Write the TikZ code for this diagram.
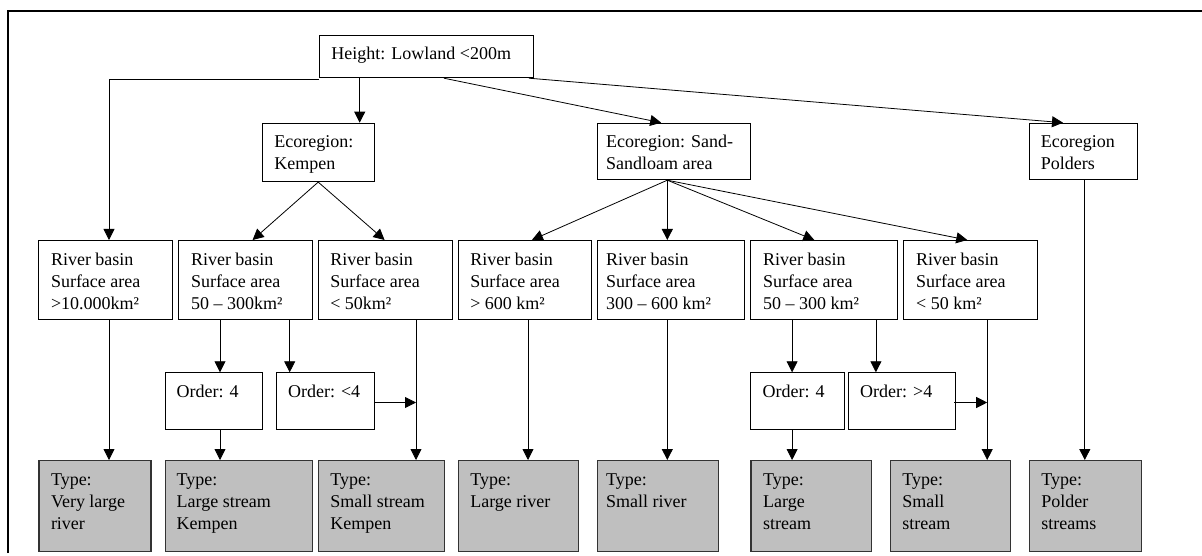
\documentclass[tikz,border=0pt]{standalone}
\usepackage{fontspec}
\setmainfont{Liberation Serif}
\usetikzlibrary{calc,arrows.meta}
\newcommand{\fs}{\rule{0pt}{14pt}}
\begin{document}
\begin{tikzpicture}[x=1pt,y=-1pt,
  box/.style={draw=black, line width=0.9pt, inner sep=0pt, anchor=north west, fill=white},
  typebox/.style={box, fill=black!25, draw=black!80, line width=1.2pt},
  txt/.style={anchor=north west, align=left, inner sep=0pt, font=\fontsize{18}{22}\selectfont},
  arr/.style={line width=0.8pt, -{Triangle[length=11pt,width=11pt]}},
  ln/.style={line width=0.8pt}]
\useasboundingbox (0,0) rectangle (1202,556);
% frame
\draw[line width=2pt] (7.5,553) -- (7.5,10.7) -- (1202,10.7);
% level 0
\node[box, minimum width=214pt, minimum height=42.3pt] (top) at (318.7,35) {};
% level 1
\node[box, minimum width=112.1pt, minimum height=58.5pt] (kem) at (261.7,122.7) {};
\node[box, minimum width=153.4pt, minimum height=56.6pt] (sand) at (597,122.7) {};
\node[box, minimum width=107.9pt, minimum height=56.6pt] (pol) at (1028.6,122.7) {};
% level 2
\node[box, minimum width=133.9pt, minimum height=79.3pt] (b1) at (38.3,240) {};
\node[box, minimum width=133.9pt, minimum height=79.3pt] (b2) at (178.3,240) {};
\node[box, minimum width=133.9pt, minimum height=79.3pt] (b3) at (317.6,240) {};
\node[box, minimum width=133.6pt, minimum height=79.3pt] (b4) at (457.6,240) {};
\node[box, minimum width=146.5pt, minimum height=79.3pt] (b5) at (597,240) {};
\node[box, minimum width=146.5pt, minimum height=79.3pt] (b6) at (750.4,240) {};
\node[box, minimum width=133.2pt, minimum height=79.3pt] (b7) at (903.4,240) {};
% order boxes
\node[box, minimum width=97.6pt, minimum height=56.7pt] (o1) at (164.5,372.3) {};
\node[box, minimum width=97.9pt, minimum height=56.7pt] (o2) at (275.9,372.3) {};
\node[box, minimum width=93.7pt, minimum height=56.7pt] (o3) at (750.4,372.3) {};
\node[box, minimum width=107.1pt, minimum height=56.7pt] (o4) at (848,372.3) {};
% type boxes
\node[typebox, minimum width=112.1pt, minimum height=90.7pt] (t1) at (38.3,460) {};
\node[typebox, minimum width=147.7pt, minimum height=90.7pt] (t2) at (164.5,460) {};
\node[typebox, minimum width=126.3pt, minimum height=90.7pt] (t3) at (317.6,460) {};
\node[typebox, minimum width=120.2pt, minimum height=90.7pt] (t4) at (457.6,460) {};
\node[typebox, minimum width=120.5pt, minimum height=90.7pt] (t5) at (597,460) {};
\node[typebox, minimum width=120.1pt, minimum height=90.7pt] (t6) at (750.4,460) {};
\node[typebox, minimum width=120.1pt, minimum height=90.7pt] (t7) at (889.7,460) {};
\node[typebox, minimum width=112.4pt, minimum height=90.7pt] (t8) at (1028.6,460) {};
% texts
\node[txt] (topt) at ($(top.north west)+(12.5,10)$) {\fs Height: Lowland <200m};
\node[txt] (kemt) at ($(kem.north west)+(12.5,11)$) {\fs Ecoregion:\\Kempen};
\node[txt] (sandt) at ($(sand.north west)+(9,11)$) {\fs Ecoregion: Sand-\\Sandloam area};
\node[txt] (polt) at ($(pol.north west)+(12,11)$) {\fs Ecoregion\\Polders};
\node[txt] (b1t) at ($(b1.north west)+(12.5,11)$) {\fs River basin\\Surface area\\>10.000km²};
\node[txt] (b2t) at ($(b2.north west)+(12.5,11)$) {\fs River basin\\Surface area\\50 – 300km²};
\node[txt] (b3t) at ($(b3.north west)+(12.5,11)$) {\fs River basin\\Surface area\\< 50km²};
\node[txt] (b4t) at ($(b4.north west)+(12.5,11)$) {\fs River basin\\Surface area\\> 600 km²};
\node[txt] (b5t) at ($(b5.north west)+(9,11)$) {\fs River basin\\Surface area\\300 – 600 km²};
\node[txt] (b6t) at ($(b6.north west)+(12.5,11)$) {\fs River basin\\Surface area\\50 – 300 km²};
\node[txt] (b7t) at ($(b7.north west)+(12.5,11)$) {\fs River basin\\Surface area\\< 50 km²};
\node[txt] (o1t) at ($(o1.north west)+(12,11)$) {\fs Order: 4};
\node[txt] (o2t) at ($(o2.north west)+(12,11)$) {\fs Order: <4};
\node[txt] (o3t) at ($(o3.north west)+(12,11)$) {\fs Order: 4};
\node[txt] (o4t) at ($(o4.north west)+(12,11)$) {\fs Order: >4};
\node[txt] (t1t) at ($(t1.north west)+(12.5,11)$) {\fs Type:\\Very large\\river};
\node[txt] (t2t) at ($(t2.north west)+(12,11)$) {\fs Type:\\Large stream\\Kempen};
\node[txt] (t3t) at ($(t3.north west)+(12.5,11)$) {\fs Type:\\Small stream\\Kempen};
\node[txt] (t4t) at ($(t4.north west)+(12.5,11)$) {\fs Type:\\Large river};
\node[txt] (t5t) at ($(t5.north west)+(9,11)$) {\fs Type:\\Small river};
\node[txt] (t6t) at ($(t6.north west)+(12.5,11)$) {\fs Type:\\Large\\stream};
\node[txt] (t7t) at ($(t7.north west)+(12.5,11)$) {\fs Type:\\Small\\stream};
\node[txt] (t8t) at ($(t8.north west)+(12.5,11)$) {\fs Type:\\Polder\\streams};
% connectors from top
\draw[arr] ($(top.south west)+(0,1.4)$) -| ($(b1.north west)+(70.7,0)$);
\draw[arr] ($(top.south west)+(41,0)$) -- ($(kem.north west)+(98,0)$);
\draw[arr] ($(top.south west)+(125.2,0)$) -- ($(sand.north west)+(64.2,0)$);
\draw[arr] ($(top.south east)+(-4.7,0)$) -- ($(pol.north west)+(34.4,0)$);
% Kempen
\draw[arr] (kem.south) -- ($(b2.north west)+(74.3,0)$);
\draw[arr] (kem.south) -- ($(b3.north west)+(67,0)$);
% Sand
\coordinate (sp) at ($(sand.south west)+(70.3,0)$);
\draw[arr] (sp) -- ($(b4.north west)+(74.3,0)$);
\draw[arr] (sp) -- ($(b5.north west)+(70.3,0)$);
\draw[arr] (sp) -- ($(b6.north west)+(63.9,0)$);
\draw[arr] (sp) -- ($(b7.north west)+(63.9,0)$);
% river basins down
\draw[arr] ($(b1.south west)+(70.7,0)$) -- ($(t1.north west)+(70.7,0)$);
\draw[arr] ($(b2.south west)+(41.7,0)$) -- ($(o1.north west)+(55.5,0)$);
\draw[arr] ($(b2.south west)+(111.4,0)$) -- ($(o2.north west)+(13.8,0)$);
\draw[arr] ($(o1.south west)+(55.5,0)$) -- ($(t2.north west)+(55.5,0)$);
\coordinate (j1) at ($(b3.south west)+(98.4,0)$);
\draw[arr] (j1) -- ($(t3.north west)+(98.4,0)$);
\coordinate (e2) at ($(o2.east)+(0,1.4)$);
\draw[arr] (e2) -- (e2 -| j1);
\draw[arr] ($(b4.south west)+(70.4,0)$) -- ($(t4.north west)+(70.4,0)$);
\draw[arr] ($(b5.south west)+(70.3,0)$) -- ($(t5.north west)+(70.3,0)$);
\draw[arr] ($(b6.south west)+(41.7,0)$) -- ($(o3.north west)+(41.7,0)$);
\draw[arr] ($(b6.south west)+(125.5,0)$) -- ($(o4.north west)+(27.9,0)$);
\draw[arr] ($(o3.south west)+(41.7,0)$) -- ($(t6.north west)+(41.7,0)$);
\coordinate (j2) at ($(b7.south west)+(83.8,0)$);
\draw[arr] (j2) -- ($(t7.north west)+(97.5,0)$);
\coordinate (e4) at ($(o4.east)+(-2,1.4)$);
\draw[arr] (e4) -- (e4 -| j2);
\draw[arr] ($(pol.south west)+(56.2,0)$) -- ($(t8.north west)+(56.2,0)$);
\end{tikzpicture}
\end{document}
